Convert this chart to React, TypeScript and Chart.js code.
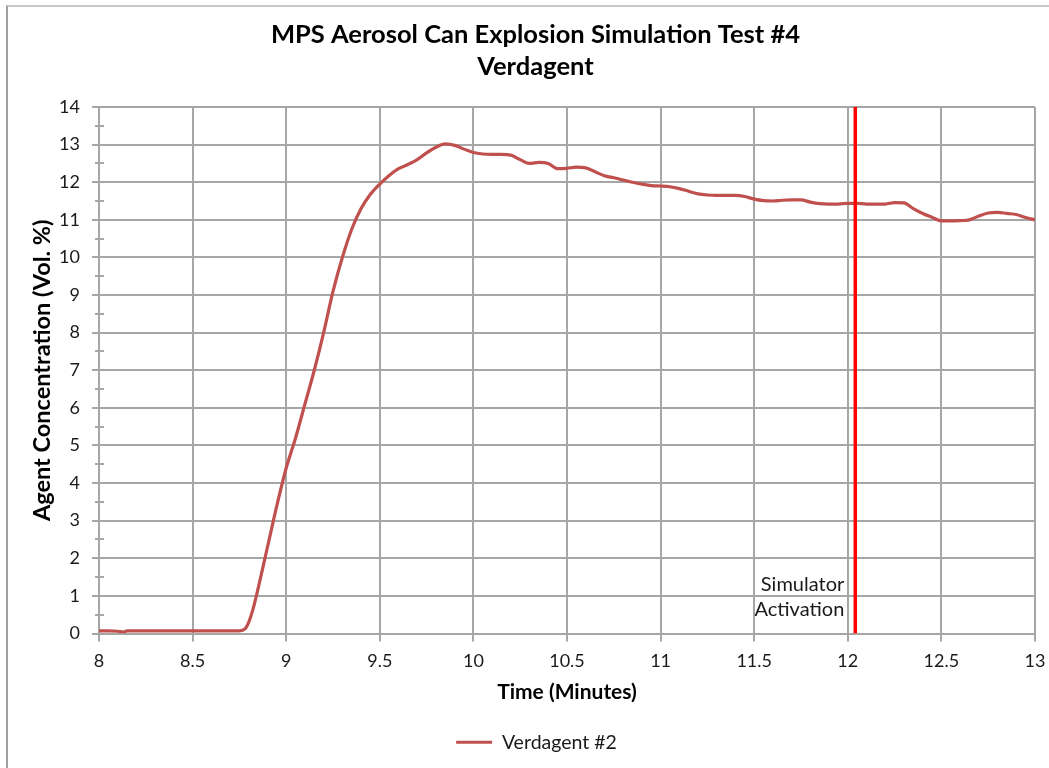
import React, { useEffect, useRef } from 'react';
import { Chart, registerables } from 'chart.js';

Chart.register(...registerables);

const chartTitle = ['MPS Aerosol Can Explosion Simulation Test #4', 'Verdagent'];
const xAxisTitle = 'Time (Minutes)';
const yAxisTitle = 'Agent Concentration (Vol. %)';
const seriesName = 'Verdagent #2';

const times = [
  8.0, 8.05, 8.1, 8.13, 8.15, 8.2, 8.3, 8.4, 8.5, 8.6, 8.7, 8.75, 8.78, 8.8, 8.82, 8.85, 8.9, 8.95,
  9.0, 9.05, 9.1, 9.15, 9.2, 9.25, 9.3, 9.35, 9.4, 9.45, 9.5, 9.55, 9.6, 9.65, 9.7, 9.75, 9.8, 9.85, 9.9, 9.95,
  10.0, 10.05, 10.1, 10.15, 10.2, 10.25, 10.3, 10.35, 10.4, 10.45, 10.5, 10.55, 10.6, 10.65, 10.7, 10.75, 10.8, 10.85, 10.9, 10.95,
  11.0, 11.05, 11.1, 11.15, 11.2, 11.25, 11.3, 11.35, 11.4, 11.45, 11.5, 11.55, 11.6, 11.65, 11.7, 11.75, 11.8, 11.85, 11.9, 11.95,
  12.0, 12.05, 12.1, 12.15, 12.2, 12.25, 12.3, 12.35, 12.4, 12.45, 12.5, 12.55, 12.6, 12.65, 12.7, 12.75, 12.8, 12.85, 12.9, 12.95,
  13.0,
];

const concentration = [
  0.07, 0.07, 0.06, 0.04, 0.07, 0.07, 0.07, 0.07, 0.07, 0.07, 0.07, 0.07, 0.12, 0.3, 0.6, 1.2, 2.3, 3.4,
  4.4, 5.2, 6.1, 7.0, 8.0, 9.1, 10.0, 10.75, 11.3, 11.68, 11.95, 12.18, 12.36, 12.47, 12.6, 12.78, 12.93, 13.02, 12.98, 12.88,
  12.79, 12.75, 12.74, 12.74, 12.72, 12.6, 12.5, 12.53, 12.5, 12.36, 12.37, 12.4, 12.38, 12.28, 12.17, 12.12, 12.06, 12.0, 11.95, 11.91,
  11.9, 11.88, 11.83, 11.76, 11.69, 11.66, 11.65, 11.65, 11.65, 11.62, 11.55, 11.51, 11.5, 11.52, 11.53, 11.53, 11.47, 11.43, 11.42, 11.42,
  11.44, 11.44, 11.42, 11.42, 11.42, 11.46, 11.45, 11.3, 11.17, 11.07, 10.97, 10.97, 10.98, 11.0, 11.1, 11.18, 11.2, 11.17, 11.14, 11.06,
  11.0,
];

const activationTime = 12.04;
const activationSpan = [0, 14];
const activationLabel = ['Simulator', 'Activation'];
const activationLabelValues = [1.3, 0.64];

const xMin = 8;
const xMax = 13;
const xStep = 0.5;
const yMin = 0;
const yMax = 14;
const yStep = 1;
const yMinorStep = 0.5;

const FONT = 'Lato';
const GRID = '#a6a6a6';
const TEXT = '#1a1a1a';

const minorTickPlugin = {
  id: 'minorTicks',
  beforeDatasetsDraw(chart: any) {
    const { ctx } = chart;
    const y = chart.scales.y;
    const x = chart.scales.x;
    const left = x.left;
    ctx.save();
    ctx.strokeStyle = GRID;
    ctx.lineWidth = 2;
    for (let v = yMin + yMinorStep; v < yMax; v += yStep) {
      const py = Math.round(y.getPixelForValue(v));
      ctx.beginPath();
      ctx.moveTo(left - 4, py);
      ctx.lineTo(left + 5, py);
      ctx.stroke();
    }
    ctx.restore();
  },
};

const annotationPlugin = {
  id: 'activationText',
  afterDatasetsDraw(chart: any) {
    const { ctx } = chart;
    const xs = chart.scales.x;
    const ys = chart.scales.y;
    const px = xs.getPixelForValue(activationTime) - 11;
    ctx.save();
    ctx.font = `20px ${FONT}`;
    ctx.fillStyle = TEXT;
    ctx.textAlign = 'right';
    ctx.textBaseline = 'middle';
    activationLabel.forEach((t, i) => {
      ctx.fillText(t, px, ys.getPixelForValue(activationLabelValues[i]));
    });
    ctx.restore();
  },
};

const boxShiftPlugin = {
  id: 'boxShift',
  beforeDraw(chart: any) {
    if (chart.legend) {
      chart.legend.left = 38;
    }
    if (chart.titleBlock) {
      chart.titleBlock.left = 36;
    }
  },
};

export default function App() {
  const canvasRef = useRef<HTMLCanvasElement | null>(null);

  useEffect(() => {
    if (!canvasRef.current) return;
    Chart.defaults.font.family = FONT;
    const seriesData = times.map((t, i) => ({ x: t, y: concentration[i] }));
    const activationData = activationSpan.map((v) => ({ x: activationTime, y: v }));

    const chart = new Chart(canvasRef.current, {
      type: 'line',
      data: {
        datasets: [
          {
            label: seriesName,
            data: seriesData,
            borderColor: '#c0504d',
            backgroundColor: '#c0504d',
            borderWidth: 3.2,
            pointRadius: 0,
            cubicInterpolationMode: 'monotone',
            order: 1,
          },
          {
            label: 'activation',
            data: activationData,
            borderColor: '#ff0000',
            backgroundColor: '#ff0000',
            borderWidth: 3.5,
            pointRadius: 0,
            order: 0,
          },
        ],
      },
      options: {
        animation: false,
        responsive: false,
        layout: { padding: { left: 0, right: 14, top: 0, bottom: 6 } },
        plugins: {
          tooltip: { enabled: false },
          title: {
            display: true,
            text: chartTitle,
            color: '#000',
            font: { size: 25.5, weight: 'bold', lineHeight: 1.255 },
            padding: { top: 19, bottom: 24 },
          },
          legend: {
            position: 'bottom',
            labels: {
              color: TEXT,
              font: { size: 19.5 },
              boxWidth: 36,
              boxHeight: 3,
              padding: 6,
              filter: (item: any) => item.text === seriesName,
              generateLabels: (chart: any) =>
                chart.data.datasets.map((ds: any, i: number) => ({
                  text: ds.label,
                  fillStyle: ds.borderColor,
                  strokeStyle: ds.borderColor,
                  lineWidth: 0,
                  datasetIndex: i,
                  hidden: false,
                  fontColor: TEXT,
                })),
            },
          },
        },
        scales: {
          x: {
            type: 'linear',
            min: xMin,
            max: xMax,
            afterFit: (scale: any) => {
              scale.height = 93;
              scale.paddingRight = 0;
              scale.paddingLeft = 0;
            },
            ticks: {
              stepSize: xStep,
              color: TEXT,
              font: { size: 18 },
              padding: 9,
              maxRotation: 0,
              callback: (v: any) => String(Number(v)),
            },
            grid: { color: GRID, lineWidth: 2, tickLength: 8, tickColor: GRID },
            border: { color: GRID, width: 2 },
            title: {
              display: true,
              text: xAxisTitle,
              color: '#000',
              font: { size: 21, weight: 'bold', lineHeight: 1.2 },
              padding: { top: 0, bottom: 22 },
            },
          },
          y: {
            type: 'linear',
            min: yMin,
            max: yMax,
            afterFit: (scale: any) => {
              scale.width = 99;
            },
            ticks: { stepSize: yStep, color: TEXT, font: { size: 18 }, padding: 12 },
            grid: { color: GRID, lineWidth: 2, tickLength: 7, tickColor: GRID },
            border: { color: GRID, width: 2 },
            title: {
              display: true,
              text: yAxisTitle,
              color: '#000',
              font: { size: 23.5, weight: 'bold', lineHeight: 1.2 },
              padding: { top: 28, bottom: 0 },
            },
          },
        },
      },
      plugins: [minorTickPlugin, annotationPlugin, boxShiftPlugin],
    } as any);

    return () => chart.destroy();
  }, []);

  return (
    <div style={{ position: 'absolute', left: 0, top: 0, width: 1049, height: 768, background: '#fff', overflow: 'hidden' }}>
      <div
        style={{
          position: 'absolute',
          left: 6,
          top: 5,
          width: 1043,
          height: 763,
          boxSizing: 'border-box',
          borderLeft: '2px solid #a0a0a0',
          borderTop: '2px solid #c8c8c8',
        }}
      />
      <canvas
        ref={canvasRef}
        width={1049}
        height={768}
        style={{ position: 'absolute', left: 0, top: 0, width: 1049, height: 768 }}
      />
    </div>
  );
}
